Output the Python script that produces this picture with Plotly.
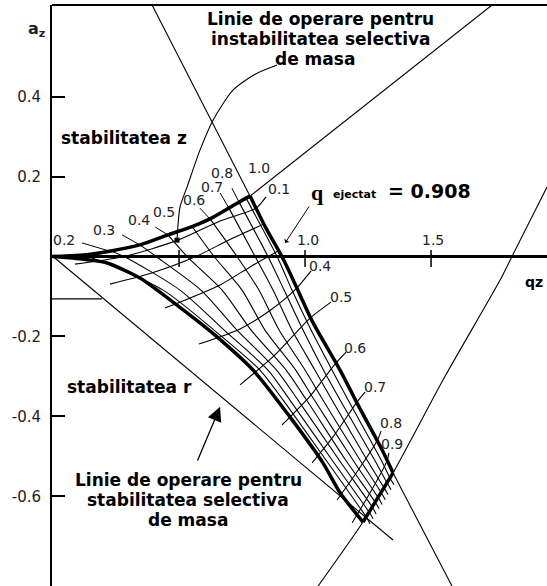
import plotly.graph_objects as go

# ---------------- data (q_z , a_z) ----------------
# stability boundaries (thick)
BR0_Q = [0.0, 0.107, 0.230, 0.345, 0.456, 0.552, 0.623, 0.698, 0.738, 0.766, 0.782]
BR0_A = [0.0, 0.003, 0.014, 0.029, 0.054, 0.075, 0.094, 0.121, 0.136, 0.146, 0.151]
BZ1_Q = [0.782, 0.845, 0.908, 0.940, 0.980, 1.032, 1.139, 1.210, 1.306, 1.349]
BZ1_A = [0.151, 0.071, 0.0, -0.041, -0.096, -0.166, -0.284, -0.371, -0.484, -0.541]
BZ0_Q = [0.0, 0.079, 0.214, 0.345, 0.476, 0.583, 0.651, 0.794, 0.940, 1.071, 1.139, 1.230]
BZ0_A = [0.0, -0.004, -0.016, -0.054, -0.114, -0.166, -0.201, -0.284, -0.401, -0.516, -0.591, -0.664]
BR1_Q = [1.230, 1.349]
BR1_A = [-0.664, -0.541]

# boundary continuations and operating lines (thin)
BZ1_UP_Q = [0.393, 0.782]
BZ1_UP_A = [0.629, 0.151]
BZ1_DN_Q = [1.349, 1.583]
BZ1_DN_A = [-0.541, -0.824]
BR1_EXT_Q = [1.052, 1.230, 1.349, 1.556, 1.774, 1.821, 1.960]
BR1_EXT_A = [-0.824, -0.664, -0.541, -0.299, -0.059, 0.0, 0.174]
BR0_EXT_Q = [0.782, 1.742]
BR0_EXT_A = [0.151, 0.629]
OPLOW_Q = [0.0, 1.349]
OPLOW_A = [0.0, -0.709]
LEAD_TOP_Q = [0.889, 0.802, 0.714, 0.635, 0.583, 0.532, 0.504, 0.492]
LEAD_TOP_A = [0.479, 0.456, 0.416, 0.341, 0.266, 0.174, 0.124, 0.041]
DOT_Q = [0.492]
DOT_A = [0.041]
STUB_Q = [-0.004, 0.194]
STUB_A = [-0.106, -0.106]

# iso-beta_z lines
BZ_LEVELS = [0.1, 0.2, 0.3, 0.4, 0.5, 0.6, 0.7, 0.8, 0.9]
BZ_Q = [
    [0.115, 0.139, 0.437, 0.639, 0.821, 0.913, 1.083, 1.242, 1.258],
    [0.230, 0.282, 0.504, 0.679, 0.853, 0.940, 1.107, 1.254, 1.270],
    [0.345, 0.409, 0.587, 0.730, 0.887, 0.972, 1.135, 1.266, 1.282],
    [0.456, 0.532, 0.671, 0.786, 0.925, 1.006, 1.161, 1.278, 1.294],
    [0.552, 0.639, 0.750, 0.841, 0.963, 1.037, 1.190, 1.290, 1.306],
    [0.623, 0.730, 0.817, 0.897, 1.000, 1.071, 1.218, 1.302, 1.318],
    [0.698, 0.802, 0.873, 0.948, 1.039, 1.107, 1.246, 1.313, 1.329],
    [0.738, 0.853, 0.917, 0.992, 1.073, 1.139, 1.276, 1.325, 1.341],
    [0.766, 0.889, 0.948, 1.024, 1.107, 1.171, 1.302, 1.337, 1.353],
]
BZ_A = [
    [0.003, 0.0, -0.084, -0.184, -0.284, -0.359, -0.509, -0.651, -0.669],
    [0.014, 0.0, -0.084, -0.184, -0.284, -0.359, -0.509, -0.639, -0.656],
    [0.029, 0.0, -0.084, -0.184, -0.284, -0.359, -0.509, -0.626, -0.644],
    [0.054, 0.0, -0.084, -0.184, -0.284, -0.359, -0.509, -0.614, -0.631],
    [0.075, 0.0, -0.084, -0.184, -0.284, -0.359, -0.509, -0.603, -0.620],
    [0.094, 0.0, -0.084, -0.184, -0.284, -0.359, -0.509, -0.590, -0.608],
    [0.121, 0.0, -0.084, -0.184, -0.284, -0.359, -0.509, -0.578, -0.595],
    [0.136, 0.0, -0.084, -0.184, -0.284, -0.359, -0.509, -0.566, -0.583],
    [0.146, 0.0, -0.084, -0.184, -0.284, -0.359, -0.509, -0.554, -0.571],
]

# iso-beta_r lines
BR_LEVELS = [0.1, 0.2, 0.3, 0.4, 0.5, 0.6, 0.7, 0.8, 0.9]
BR_Q = [
    [0.087, 0.282, 0.496, 0.663, 0.806, 0.845],
    [0.226, 0.385, 0.567, 0.702, 0.837],
    [0.444, 0.663, 0.782, 0.893],
    [0.579, 0.742, 0.861, 0.964, 1.024],
    [0.742, 0.881, 1.020, 1.103],
    [0.909, 1.020, 1.123, 1.163],
    [1.028, 1.119, 1.206, 1.238],
    [1.127, 1.206, 1.286, 1.302],
    [1.187, 1.258, 1.325, 1.333],
]
BR_A = [
    [-0.019, 0.0, 0.041, 0.089, 0.121, 0.149],
    [-0.069, -0.0425, 0.0, 0.0425, 0.081],
    [-0.129, -0.071, -0.026, 0.014],
    [-0.219, -0.181, -0.135, -0.081, -0.036],
    [-0.321, -0.246, -0.154, -0.114],
    [-0.421, -0.349, -0.266, -0.239],
    [-0.516, -0.444, -0.364, -0.339],
    [-0.609, -0.539, -0.461, -0.436],
    [-0.666, -0.591, -0.511, -0.491],
]

# leader strokes for the beta_z labels on the upper boundary
LEAD_Q = [[0.115, 0.222], [0.274, 0.345], [0.405, 0.456], [0.583, 0.623], [0.663, 0.698], [0.710, 0.738]]
LEAD_A = [[0.034, 0.014], [0.054, 0.029], [0.074, 0.054], [0.121, 0.094], [0.159, 0.121], [0.171, 0.136]]

# small numeric labels
LBL_TEXT = ["0.2", "0.3", "0.4", "0.5", "0.6", "0.7", "0.8", "1.0", "0.1",
            "0.4", "0.5", "0.6", "0.7", "0.8", "0.9", "1.0", "1.5"]
LBL_Q = [0.044, 0.202, 0.341, 0.440, 0.560, 0.631, 0.671, 0.817, 0.897,
         1.060, 1.143, 1.198, 1.278, 1.341, 1.345, 1.012, 1.508]
LBL_A = [0.041, 0.066, 0.091, 0.111, 0.141, 0.174, 0.209, 0.221, 0.169,
         -0.024, -0.101, -0.229, -0.326, -0.416, -0.469, 0.041, 0.041]

X_TICKS = [0.5, 1.0, 1.5]
Y_TICKS = [-0.6, -0.4, -0.2, 0.2, 0.4]
Y_TICKTEXT = ["-0.6", "-0.4", "-0.2", "0.2", "0.4"]
Q_RANGE = [-0.004, 1.960]
A_RANGE = [-0.824, 0.629]

# ---------------------------------------------------------------------------
BLACK = "#000000"
TXT = "#222222"
SANS = "DejaVu Sans, Arial, sans-serif"

fig = go.Figure()


def add_line(q, a, width=1.2, shape="spline"):
    fig.add_trace(go.Scatter(x=q, y=a, mode="lines",
                             line=dict(color=BLACK, width=width, shape=shape, smoothing=0.7),
                             hoverinfo="skip", showlegend=False))


# thin construction lines
add_line(BZ1_UP_Q, BZ1_UP_A, 1.1, "linear")
add_line(BZ1_DN_Q, BZ1_DN_A, 1.1, "linear")
add_line(BR1_EXT_Q, BR1_EXT_A, 1.1)
add_line(BR0_EXT_Q, BR0_EXT_A, 1.1, "linear")
add_line(OPLOW_Q, OPLOW_A, 1.1, "linear")
add_line(LEAD_TOP_Q, LEAD_TOP_A, 1.1)
add_line(STUB_Q, STUB_A, 1.4, "linear")

for q, a in zip(BZ_Q, BZ_A):
    add_line(q, a, 1.1)
for q, a in zip(BR_Q, BR_A):
    add_line(q, a, 1.1)
for q, a in zip(LEAD_Q, LEAD_A):
    add_line(q, a, 1.0, "linear")

# thick boundaries
add_line(BR0_Q, BR0_A, 3.5)
add_line(BZ1_Q, BZ1_A, 3.5)
add_line(BZ0_Q, BZ0_A, 3.5)
add_line(BR1_Q, BR1_A, 3.5, "linear")

fig.add_trace(go.Scatter(x=DOT_Q, y=DOT_A, mode="markers",
                         marker=dict(color=BLACK, size=5, symbol="square"),
                         hoverinfo="skip", showlegend=False))

shapes = [
    dict(type="line", xref="paper", yref="y", x0=0, x1=1, y0=0, y1=0,
         line=dict(color=BLACK, width=3)),
    dict(type="line", xref="paper", yref="paper", x0=0, x1=1, y0=1, y1=1,
         line=dict(color=BLACK, width=2)),
]
for t in X_TICKS:
    shapes.append(dict(type="line", xref="x", yref="y", x0=t, x1=t, y0=-0.026, y1=0.016,
                       line=dict(color=BLACK, width=1.5)))

ann = []
for txt, q, a in zip(LBL_TEXT, LBL_Q, LBL_A):
    ann.append(dict(x=q, y=a, xref="x", yref="y", text=txt, showarrow=False,
                    font=dict(family=SANS, size=14, color=TXT)))


def bold(q, a, t, size, **kw):
    d = dict(x=q, y=a, xref="x", yref="y", text="<b>" + t + "</b>", showarrow=False,
             font=dict(family=SANS, size=size, color=BLACK))
    d.update(kw)
    ann.append(d)


# captions
top_lines = ["Linie de operare pentru", "instabilitatea selectiva", "de masa"]
top_q = [1.060, 1.064, 1.040]
top_a = [0.594, 0.545, 0.495]
for t, q, a in zip(top_lines, top_q, top_a):
    bold(q, a, t, 17)
bot_lines = ["Linie de operare pentru", "stabilitatea selectiva", "de masa"]
bot_q = [0.536, 0.536, 0.536]
bot_a = [-0.558, -0.608, -0.658]
for t, q, a in zip(bot_lines, bot_q, bot_a):
    bold(q, a, t, 17)

bold(0.282, 0.296, "stabilitatea z", 17)
bold(0.302, -0.326, "stabilitatea r", 17)

# q ejectat = 0.908
ann.append(dict(x=1.048, y=0.159, xref="x", yref="y", text="<b>q</b>", showarrow=False,
                font=dict(family="Liberation Serif, DejaVu Serif, serif", size=22, color=BLACK)))
bold(1.198, 0.155, "ejectat", 11)
bold(1.492, 0.163, "= 0.908", 19)
ann.append(dict(x=0.921, y=0.034, ax=1.020, ay=0.129, xref="x", yref="y", axref="x", ayref="y",
                text="", showarrow=True, arrowhead=1, arrowsize=1, arrowwidth=1, arrowcolor=BLACK))

# arrow to lower operating line
ann.append(dict(x=0.663, y=-0.376, ax=0.571, ay=-0.514, xref="x", yref="y", axref="x", ayref="y",
                text="", showarrow=True, arrowhead=2, arrowsize=2.2, arrowwidth=1.3, arrowcolor=BLACK))

# axis titles
ann.append(dict(x=-0.053, y=0.979, xref="paper", yref="paper", text="<b>a<sub>z</sub></b>",
                showarrow=False, font=dict(family=SANS, size=16, color=TXT)))
bold(1.909, -0.064, "qz", 14)

fig.update_layout(
    width=547, height=586,
    margin=dict(l=52, r=0, t=5, b=0, pad=0),
    paper_bgcolor="white", plot_bgcolor="white",
    shapes=shapes, annotations=ann,
    xaxis=dict(range=Q_RANGE, showgrid=False, zeroline=False, showline=False,
               showticklabels=False, ticks="", automargin=False, fixedrange=True),
    yaxis=dict(range=A_RANGE, showgrid=False, zeroline=False, showline=True,
               linecolor=BLACK, linewidth=2, ticks="inside", ticklen=13, tickwidth=2,
               tickcolor=BLACK, tickvals=Y_TICKS, ticktext=Y_TICKTEXT,
               tickfont=dict(family=SANS, size=15, color=TXT), ticklabelstandoff=6,
               automargin=False, fixedrange=True),
)

fig.write_html("out.html", config={"displayModeBar": False},
               post_script="document.body.style.margin='0';")
